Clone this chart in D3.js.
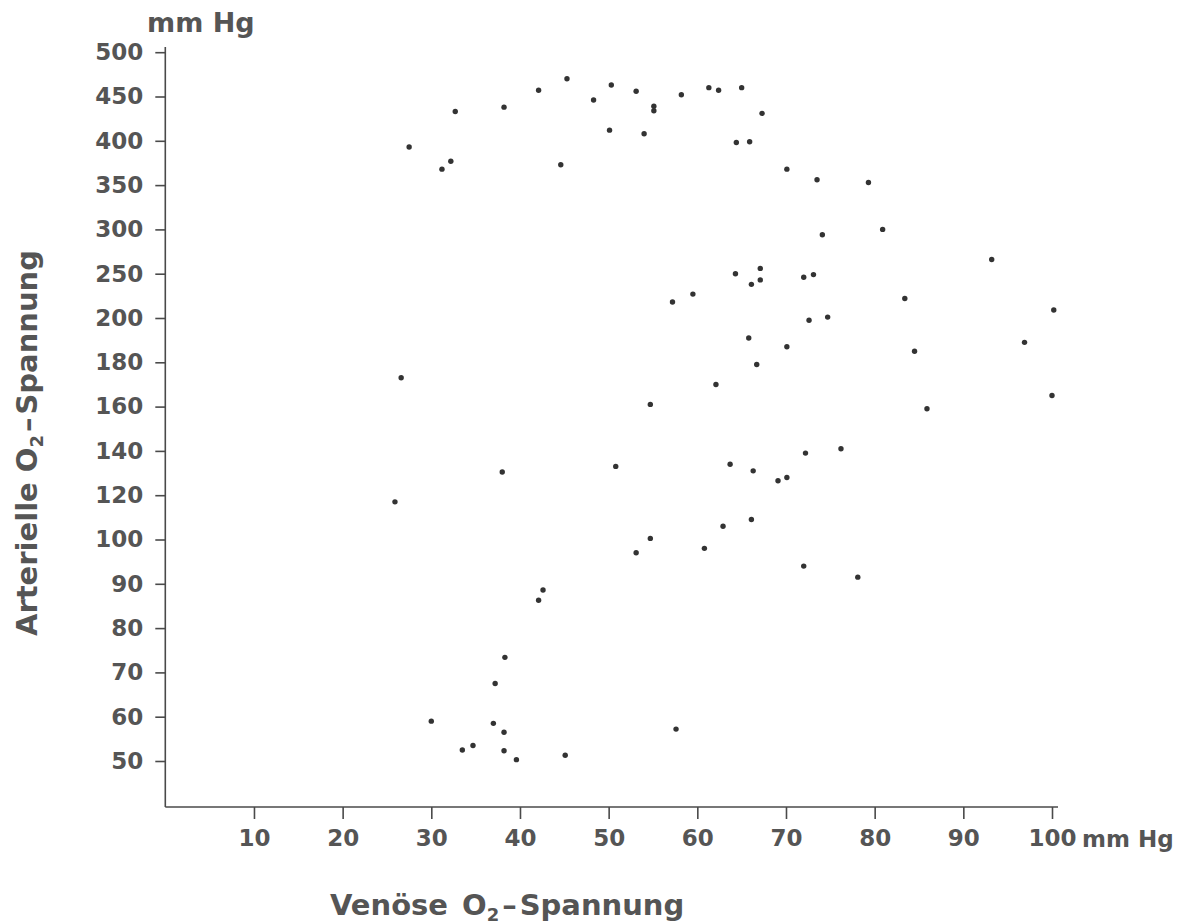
<!DOCTYPE html>
<html>
    <head>
        <meta charset="utf-8">
        <title>Arterielle / venöse O2-Spannung</title>
        <style>
            html, body {
                margin: 0px;
                padding: 0px;
                background-color: #fff;
            }

            svg text {
                font-family: "DejaVu Sans", sans-serif;
                font-weight: bold;
                fill: #555;
            }

            .axis text, .unit-x {
                font-size: 23px;
            }

            .axis line, .spine {
                stroke: #4a4a4a;
                stroke-width: 1.6px;
            }

            .axis .domain {
                display: none;
            }

            .title {
                font-size: 29px;
            }

            .unit {
                font-size: 27px;
            }

            .dot {
                fill: #333;
            }
        </style>
        <script src="https://cdn.jsdelivr.net/npm/d3@7"></script>
    </head>
    <body>
        <div id="main"></div>

        <script>
            var xTickValues = [10, 20, 30, 40, 50, 60, 70, 80, 90, 100];
            var yTickValues = [50, 60, 70, 80, 90, 100, 120, 140, 160, 180, 200, 250, 300, 350, 400, 450, 500];

            // venöse O2-Spannung (mm Hg)
            var venous = [
                32.7, 27.5, 32.2, 31.2, 26.6,
                38.2, 42.1, 45.3, 48.3, 50.3, 53.1, 55.1, 55.1, 58.2, 61.3, 62.4, 65.0, 67.3,
                50.1, 54.0, 64.4, 65.9, 44.6, 64.3, 67.1, 66.1, 67.1, 59.5, 57.2, 65.8, 66.7, 62.1, 54.7,
                70.1, 73.5, 79.3, 74.1, 80.9, 93.2, 72.0, 73.1, 83.4, 72.6, 74.7, 100.2, 70.1, 96.9, 84.5, 100.0, 85.9,
                25.9, 30.0, 33.5,
                38.0, 50.8, 63.7, 66.3, 66.1, 62.9, 60.8, 54.7, 53.1, 42.6, 42.1, 38.3, 37.2, 37.0, 38.2, 34.7, 38.2, 39.6, 45.1, 57.6,
                72.2, 76.2, 69.1, 70.1, 72.0, 78.1
            ];

            // arterielle O2-Spannung (mm Hg)
            var arterial = [
                433, 393, 377, 368, 173,
                438, 457, 470, 446, 463, 456, 439, 434, 452, 460, 457, 460, 431,
                412, 408, 398, 399, 373, 250, 256, 238, 243, 227, 218, 191, 179, 170, 161,
                368, 356, 353, 294, 300, 266, 246, 249, 222, 199, 201, 209, 187, 189, 185, 165, 159,
                117, 59, 52.5,
                130.5, 133, 134, 131, 109, 106, 98, 100.5, 97, 88.6, 86.3, 73.4, 67.5, 58.5, 56.5, 53.5, 52.3, 50.3, 51.3, 57.2,
                139, 141, 126.5, 128, 94, 91.5
            ];

            var width = 1177;
            var height = 924;
            var plotLeft = 165.3;
            var plotBottom = 807;
            var plotTop = 47;
            var plotRight = 1058;
            var yStep = 44.3;
            var yFirst = 761;

            function title(sel, first, gap) {
                sel.append("tspan").text(first);
                sel.append("tspan").attr("dx", gap).text("O");
                sel.append("tspan").attr("font-size", "0.62em").attr("dy", "0.35em").text("2");
                sel.append("tspan").attr("dy", "-0.22em").attr("dx", 3).text("–");
                sel.append("tspan").attr("dx", 3).text("Spannung");
            }

            function main() {
                var svg = d3.select("#main")
                            .append("svg")
                            .attr("width", width)
                            .attr("height", height);

                var x = d3.scaleLinear().domain([0, 100]).range([plotLeft, 1052]);
                // gleichabständige Teilung, stückweise linear
                var y = d3.scaleLinear()
                    .domain(yTickValues)
                    .range(yTickValues.map(function(d, i) { return yFirst - i * yStep; }));

                svg.append("line")
                    .attr("class", "spine")
                    .attr("x1", plotLeft).attr("x2", plotLeft)
                    .attr("y1", plotTop).attr("y2", plotBottom);

                svg.append("line")
                    .attr("class", "spine")
                    .attr("x1", plotLeft).attr("x2", plotRight)
                    .attr("y1", plotBottom).attr("y2", plotBottom);

                svg.append("g")
                    .attr("class", "axis")
                    .attr("transform", "translate(" + plotLeft + ",0)")
                    .call(d3.axisLeft(y).tickValues(yTickValues).tickSize(10).tickPadding(12).tickFormat(d3.format("d")));

                svg.append("g")
                    .attr("class", "axis")
                    .attr("transform", "translate(0," + plotBottom + ")")
                    .call(d3.axisBottom(x).tickValues(xTickValues).tickSize(12).tickPadding(11).tickFormat(d3.format("d")));

                svg.selectAll(".axis text").attr("fill", null);
                svg.selectAll(".axis line").attr("stroke", null);

                var points = venous.map(function(v, i) { return { v: v, a: arterial[i] }; });

                svg.selectAll("circle.dot")
                    .data(points)
                    .enter()
                    .append("circle")
                    .attr("class", "dot")
                    .attr("cx", function(d) { return x(d.v); })
                    .attr("cy", function(d) { return y(d.a); })
                    .attr("r", 2.7);

                svg.append("text")
                    .attr("class", "unit")
                    .attr("x", 147)
                    .attr("y", 32)
                    .text("mm Hg");

                svg.append("text")
                    .attr("class", "unit-x")
                    .attr("x", x(100) + 30)
                    .attr("y", 847)
                    .text("mm Hg");

                var yt = svg.append("text")
                    .attr("class", "title")
                    .attr("transform", "translate(37,443) rotate(-90)")
                    .style("text-anchor", "middle");
                title(yt, "Arterielle", 10);

                var xt = svg.append("text")
                    .attr("class", "title")
                    .attr("x", 330)
                    .attr("y", 915);
                title(xt, "Venöse", 14);
            }

            main();
        </script>
    </body>
</html>
